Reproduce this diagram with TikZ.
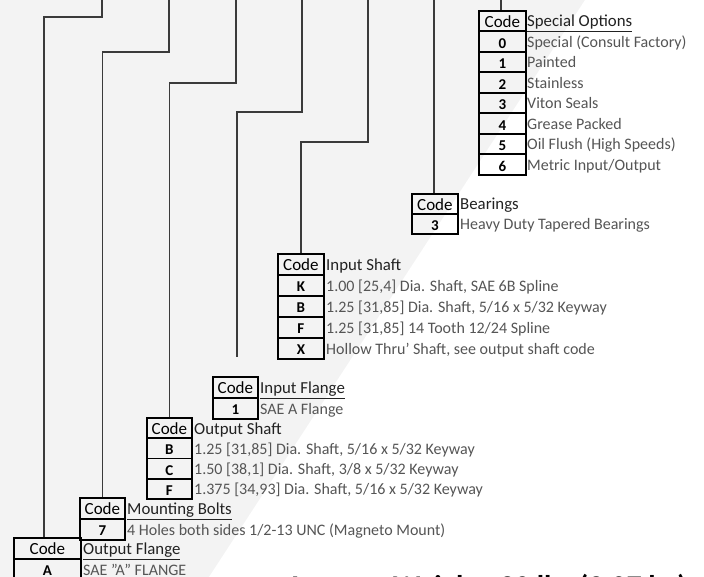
\documentclass[tikz,border=0pt]{standalone}
\usepackage{fontspec}
\setmainfont{Carlito}
\definecolor{bgc}{HTML}{F3F3F3}
\definecolor{desc}{HTML}{555555}
\definecolor{ttl}{HTML}{222222}
\definecolor{wire}{HTML}{3A3A3A}
\tikzset{
  cell/.style={draw=black, line width=1.8pt, inner sep=0pt, anchor=north west,
    minimum width=#1, text height=14.5pt, text depth=1.5pt,
    font=\fontsize{15}{15}\selectfont\bfseries},
  codehead/.style={font=\fontsize{17}{17}\selectfont},
  dtext/.style={anchor=base west, inner sep=0pt, text=desc, font=\fontsize{16}{16}\selectfont},
  ttext/.style={anchor=base west, inner sep=0pt, text=ttl, font=\fontsize{16.8}{16.8}\selectfont},
  wireline/.style={draw=wire, line width=1.2pt},
}
\begin{document}
\begin{tikzpicture}[x=1pt,y=-1pt]
\useasboundingbox (0,0) rectangle (704,577);
\clip (0,0) rectangle (704,577);
\fill[bgc] (0,0) rectangle (704,577);
\fill[white] (585,0) -- (704,0) -- (704,577) -- (209,577) -- cycle;

% ---------- Special Options ----------
\node[cell=47pt, minimum height=20.5pt, codehead] (so-h) at (478,10) {Code};
\node[cell=47pt, minimum height=20.5pt] (so-0) at (478,30.5) {0};
\node[cell=47pt, minimum height=20.5pt] (so-1) at (478,51) {1};
\node[cell=47pt, minimum height=20.5pt] (so-2) at (478,71.5) {2};
\node[cell=47pt, minimum height=20.5pt] (so-3) at (478,92) {3};
\node[cell=47pt, minimum height=20.5pt] (so-4) at (478,112.5) {4};
\node[cell=47pt, minimum height=20.5pt] (so-5) at (478,133) {5};
\node[cell=47pt, minimum height=20.5pt] (so-6) at (478,153.5) {6};
\node[ttext] (so-t) at (527,27) {\underline{Special Options}};
\node[dtext] (so-d0) at (527,47.5) {Special (Consult Factory)};
\node[dtext] (so-d1) at (527,68) {Painted};
\node[dtext] (so-d2) at (527,88.5) {Stainless};
\node[dtext] (so-d3) at (527,109) {Viton Seals};
\node[dtext] (so-d4) at (527,129.5) {Grease Packed};
\node[dtext] (so-d5) at (527,150) {Oil Flush (High Speeds)};
\node[dtext] (so-d6) at (527,170.5) {Metric Input/Output};

% ---------- Bearings ----------
\node[cell=46pt, minimum height=20pt, codehead] (br-h) at (411,193) {Code};
\node[cell=46pt, minimum height=20pt] (br-3) at (411,213) {3};
\node[ttext] (br-t) at (460,209.5) {Bearings};
\node[dtext] (br-d3) at (460,229.5) {Heavy Duty Tapered Bearings};

% ---------- Input Shaft ----------
\node[cell=46pt, minimum height=21pt, codehead] (is-h) at (277,253) {Code};
\node[cell=46pt, minimum height=21pt] (is-k) at (277,274) {K};
\node[cell=46pt, minimum height=21pt] (is-b) at (277,295) {B};
\node[cell=46pt, minimum height=21pt] (is-f) at (277,316) {F};
\node[cell=46pt, minimum height=21pt] (is-x) at (277,337) {X};
\node[ttext] (is-t) at (326,270.5) {Input Shaft};
\node[dtext] (is-dk) at (326,291.5) {1.00 [25,4] Dia. Shaft, SAE 6B Spline};
\node[dtext] (is-db) at (326,312.5) {1.25 [31,85] Dia. Shaft, 5/16 x 5/32 Keyway};
\node[dtext] (is-df) at (326,333.5) {1.25 [31,85] 14 Tooth 12/24 Spline};
\node[dtext] (is-dx) at (326,354.5) {Hollow Thru' Shaft, see output shaft code};

% ---------- Input Flange ----------
\node[cell=45pt, minimum height=21pt, codehead] (if-h) at (212,376) {Code};
\node[cell=45pt, minimum height=21pt] (if-1) at (212,397) {1};
\node[ttext] (if-t) at (260,393.5) {\underline{Input Flange}};
\node[dtext] (if-d1) at (260,414.5) {SAE A Flange};

% ---------- Output Shaft ----------
\node[cell=45pt, minimum height=20.3pt, codehead] (os-h) at (146,417) {Code};
\node[cell=45pt, minimum height=20.3pt] (os-b) at (146,437.3) {B};
\node[cell=45pt, minimum height=20.3pt] (os-c) at (146,457.6) {C};
\node[cell=45pt, minimum height=20.3pt] (os-f) at (146,477.9) {F};
\node[ttext] (os-t) at (194,434) {Output Shaft};
\node[dtext] (os-db) at (194,454.3) {1.25 [31,85] Dia. Shaft, 5/16 x 5/32 Keyway};
\node[dtext] (os-dc) at (194,474.6) {1.50 [38,1] Dia. Shaft, 3/8 x 5/32 Keyway};
\node[dtext] (os-df) at (194,494.9) {1.375 [34,93] Dia. Shaft, 5/16 x 5/32 Keyway};

% ---------- Mounting Bolts ----------
\node[cell=45pt, minimum height=21pt, codehead] (mb-h) at (79,497) {Code};
\node[cell=45pt, minimum height=21pt] (mb-7) at (79,518) {7};
\node[ttext] (mb-t) at (127,514.5) {\underline{Mounting Bolts}};
\node[dtext] (mb-d7) at (127,535.5) {4 Holes both sides 1/2-13 UNC (Magneto Mount)};

% ---------- Output Flange ----------
\node[cell=67pt, minimum height=21pt, codehead] (of-h) at (13,537) {Code};
\node[cell=67pt, minimum height=21pt] (of-a) at (13,558) {A};
\node[ttext] (of-t) at (83,554.5) {\underline{Output Flange}};
\node[dtext] (of-da) at (83,575.5) {SAE "A" FLANGE};

% ---------- Weight ----------
\node[anchor=base west, inner sep=0pt, font=\fontsize{30}{30}\selectfont\bfseries] (wt) at (286,596) {Average Weight: 20 lbs (9.07 kg)};

% ---------- connectors ----------
\coordinate (t1) at (102,0);
\coordinate (t2) at (169,0);
\coordinate (t3) at (236,0);
\coordinate (t4) at (302,0);
\coordinate (t5) at (368,0);
\coordinate (t6) at (434,0);
\coordinate (t7) at (501,0);
\coordinate (e4) at (237,357);
\coordinate (e1) at (44,537);
\draw[wireline] (t1) -- (102,17) -| (e1);
\draw[wireline] (t2) -- (169,52) -| (mb-h.north);
\draw[wireline] (t3) -- (236,83) -| (os-h.north);
\draw[wireline] (t4) -- (302,112) -| (e4);
\draw[wireline] (t5) -- (368,142) -| (is-h.north);
\draw[wireline] (t6) -- (br-h.north -| t6);
\draw[wireline] (t7) -- (so-h.north -| t7);
\end{tikzpicture}
\end{document}
